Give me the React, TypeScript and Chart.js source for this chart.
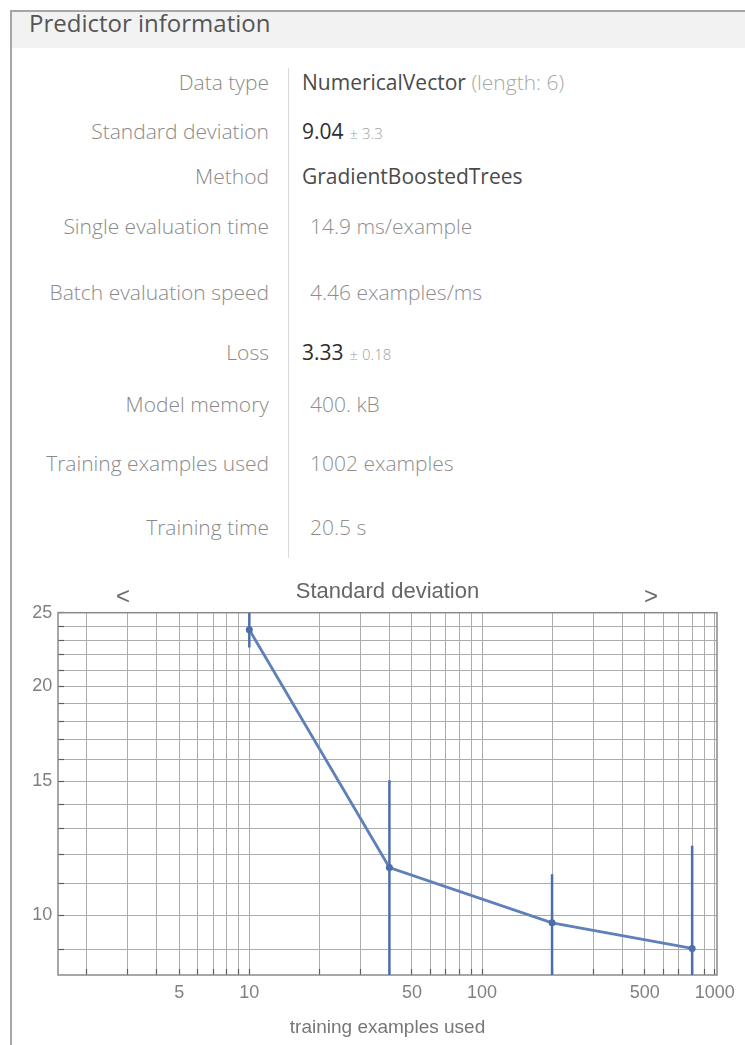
import React, { useEffect, useRef } from "react";
import { Chart, registerables } from "chart.js";

Chart.register(...registerables);

// ---------- data ----------
const trainingExamples = [10, 40, 200, 800];
const stdDevValues = [23.74, 11.55, 9.77, 9.04];
const stdDevErrors = [1.25, 3.5, 1.55, 3.3];

const xGridTicks = [2, 3, 4, 5, 6, 7, 8, 9, 10, 20, 30, 40, 50, 60, 70, 80, 90, 100, 200, 300, 400, 500, 600, 700, 800, 900, 1000];
const xLabelTicks = [5, 10, 50, 100, 500, 1000];
const yGridTicks = [9, 10, 11, 12, 13, 14, 15, 16, 17, 18, 19, 20, 21, 22, 23, 24, 25];
const yLabelTicks = [10, 15, 20, 25];
const xRange = [1.506, 1023];
const yRange = [8.34, 25];

const infoLabels = [
  "Data type",
  "Standard deviation",
  "Method",
  "Single evaluation time",
  "Batch evaluation speed",
  "Loss",
  "Model memory",
  "Training examples used",
  "Training time",
];
const infoMain = [
  "NumericalVector",
  "9.04",
  "GradientBoostedTrees",
  "14.9 ms/example",
  "4.46 examples/ms",
  "3.33",
  "400. kB",
  "1002 examples",
  "20.5 s",
];
const infoExtra = [" (length: 6)", "± 3.3", "", "", "", "± 0.18", "", "", ""];
const infoTone = ["dark", "strong", "dark", "light", "light", "strong", "light", "light", "light"];

// ---------- layout / style ----------
const ROW_CENTERS = [83, 132, 177, 227, 293, 353, 405, 464, 528];
const UI_FONT = "'Open Sans', 'Noto Sans', sans-serif";
const CHART_FONT = "'Liberation Sans', Arial, sans-serif";
const LINE_COLOR = "#5f80b8";
const BAR_COLOR = "#4d6dab";
const GRID_COLOR = "#acacac";
const TICK_COLOR = "#5e5e5e";
const FRAME_COLOR = "#8a8a8a";

const framePlugin = {
  id: "frame",
  beforeDatasetsDraw(chart: any) {
    const { ctx, chartArea } = chart;
    ctx.save();
    ctx.strokeStyle = FRAME_COLOR;
    ctx.lineWidth = 1.5;
    ctx.strokeRect(chartArea.left, chartArea.top, chartArea.right - chartArea.left, chartArea.bottom - chartArea.top);
    ctx.restore();
  },
};

function LearningCurve() {
  const ref = useRef<HTMLCanvasElement | null>(null);
  useEffect(() => {
    if (!ref.current) return;
    const errorSets = trainingExamples.map((x, i) => ({
      data: [
        { x, y: stdDevValues[i] - stdDevErrors[i] },
        { x, y: stdDevValues[i] + stdDevErrors[i] },
      ],
      borderColor: BAR_COLOR,
      borderWidth: 2.5,
      pointRadius: 0,
      clip: 0,
      order: 2,
    }));
    const chart = new Chart(ref.current, {
      type: "line",
      data: {
        datasets: [
          {
            data: trainingExamples.map((x, i) => ({ x, y: stdDevValues[i] })),
            borderColor: LINE_COLOR,
            borderWidth: 2.8,
            pointRadius: 3.5,
            pointBackgroundColor: BAR_COLOR,
            pointBorderWidth: 0,
            tension: 0,
            clip: 0,
            order: 1,
          },
          ...errorSets,
        ] as any,
      },
      options: {
        animation: false,
        responsive: false,
        devicePixelRatio: 1,
        layout: { padding: { left: 0, right: 21, top: 0, bottom: 0 } },
        plugins: {
          legend: { display: false },
          tooltip: { enabled: false },
          title: {
            display: true,
            text: "Standard deviation",
            color: "#666666",
            fullSize: false,
            font: { family: CHART_FONT, size: 22, weight: "normal" },
            padding: { top: 8.8, bottom: 7.5 },
          },
        },
        scales: {
          x: {
            type: "logarithmic",
            min: xRange[0],
            max: xRange[1],
            bounds: "data",
            afterBuildTicks: (s: any) => {
              s.ticks = xGridTicks.map((v) => ({ value: v }));
            },
            afterFit: (s: any) => {
              s.height = 70;
              s.paddingLeft = 0;
              s.paddingRight = 0;
            },
            grid: {
              color: GRID_COLOR,
              lineWidth: 1,
              drawTicks: true,
              tickLength: -6,
              tickColor: TICK_COLOR,
              tickWidth: 1.2,
            },
            border: { display: false },
            ticks: {
              autoSkip: false,
              maxRotation: 0,
              minRotation: 0,
              padding: 13,
              color: "#808080",
              font: { family: CHART_FONT, size: 18 },
              callback: (v: any) => (xLabelTicks.includes(Number(v)) ? String(v) : ""),
            },
            title: {
              display: true,
              text: "training examples used",
              color: "#777777",
              font: { family: CHART_FONT, size: 19 },
              padding: { top: 0, bottom: 5.6 },
            },
          },
          y: {
            type: "logarithmic",
            min: yRange[0],
            max: yRange[1],
            bounds: "data",
            afterBuildTicks: (s: any) => {
              s.ticks = yGridTicks.map((v) => ({ value: v }));
            },
            afterFit: (s: any) => {
              s.width = 46;
            },
            grid: {
              color: GRID_COLOR,
              lineWidth: 1,
              drawTicks: true,
              tickLength: -6,
              tickColor: TICK_COLOR,
              tickWidth: 1.2,
            },
            border: { display: false },
            ticks: {
              autoSkip: false,
              padding: 11.7,
              color: "#808080",
              font: { family: CHART_FONT, size: 18 },
              callback: (v: any) => (yLabelTicks.includes(Number(v)) ? String(v) : ""),
            },
          },
        },
      } as any,
      plugins: [framePlugin],
    });
    return () => chart.destroy();
  }, []);
  return <canvas ref={ref} width={726} height={475} style={{ width: 726, height: 475, display: "block" }} />;
}

const toneColor: Record<string, string> = { strong: "#2e2e2e", dark: "#4a4a4a", light: "#8e8e8e" };

export default function App() {
  return (
    <div style={{ position: "absolute", left: 0, top: 0, width: 745, height: 1045, overflow: "hidden", background: "#fff", fontFamily: UI_FONT }}>
      {/* panel frame */}
      <div style={{ position: "absolute", left: 10, top: 10, width: 800, height: 1100, borderLeft: "2px solid #a6a6a6", borderTop: "2px solid #a6a6a6" }} />
      <div style={{ position: "absolute", left: 12, top: 12, width: 760, height: 36, background: "#f2f2f2" }} />
      <div style={{ position: "absolute", left: 29, top: 8, fontSize: 24, lineHeight: "30px", color: "#555555", whiteSpace: "nowrap" }}>
        Predictor information
      </div>
      {/* divider */}
      <div style={{ position: "absolute", left: 288, top: 68, width: 1, height: 490, background: "#dadada" }} />
      {infoLabels.map((label, i) => (
        <div
          key={"l" + i}
          style={{ position: "absolute", left: 0, width: 269, top: ROW_CENTERS[i] - 13, fontSize: 21, lineHeight: "24px", fontWeight: 300, color: "#8a8a8a", textAlign: "right", whiteSpace: "nowrap" }}
        >
          {label}
        </div>
      ))}
      {infoMain.map((val, i) => (
        <div
          key={"v" + i}
          style={{ position: "absolute", left: infoTone[i] === "light" ? 310 : 302, top: ROW_CENTERS[i] - 13, fontSize: 21, lineHeight: "24px", fontWeight: infoTone[i] === "light" ? 300 : 400, color: toneColor[infoTone[i]], whiteSpace: "nowrap" }}
        >
          {val}
          {infoExtra[i] ? (
            infoExtra[i].startsWith("±") ? (
              <span style={{ fontSize: 15, color: "#a0a0a0", marginLeft: 6, fontWeight: 300 }}>{infoExtra[i]}</span>
            ) : (
              <span style={{ color: "#a8a8a8", fontWeight: 300 }}>{infoExtra[i]}</span>
            )
          ) : null}
        </div>
      ))}
      {/* chart */}
      <div style={{ position: "absolute", left: 12, top: 570 }}>
        <LearningCurve />
      </div>
      <div style={{ position: "absolute", left: 108, top: 584, width: 30, textAlign: "center", fontFamily: CHART_FONT, fontSize: 24, lineHeight: "24px", color: "#6a6a6a" }}>&lt;</div>
      <div style={{ position: "absolute", left: 636, top: 584, width: 30, textAlign: "center", fontFamily: CHART_FONT, fontSize: 24, lineHeight: "24px", color: "#6a6a6a" }}>&gt;</div>
    </div>
  );
}
